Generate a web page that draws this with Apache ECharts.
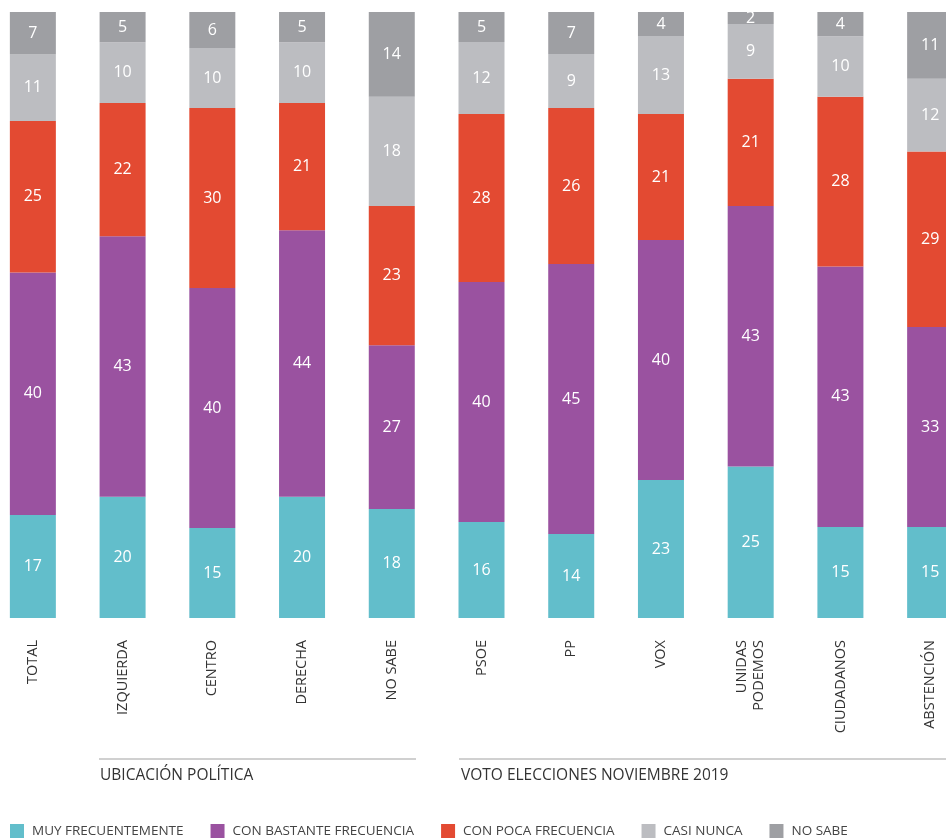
<!DOCTYPE html>
<html><head><meta charset="utf-8">
<script src="https://cdn.jsdelivr.net/npm/echarts@6/dist/echarts.min.js"></script>
<style>html,body{margin:0;padding:0;background:#fff}#c{width:946px;height:838px}</style>
</head><body><div id="c"></div>
<script>
const categories = ['TOTAL','IZQUIERDA','CENTRO','DERECHA','NO SABE','PSOE','PP','VOX','UNIDAS\nPODEMOS','CIUDADANOS','ABSTENCIÓN'];
const muyFrecuentemente = [17,20,15,20,18,16,14,23,25,15,15];
const conBastante      = [40,43,40,44,27,40,45,40,43,43,33];
const conPoca          = [25,22,30,21,23,28,26,21,21,28,29];
const casiNunca        = [11,10,10,10,18,12,9,13,9,10,12];
const noSabe           = [7,5,6,5,14,5,7,4,2,4,11];
const seriesNames = ['MUY FRECUENTEMENTE','CON BASTANTE FRECUENCIA','CON POCA FRECUENCIA','CASI NUNCA','NO SABE'];
const groupLabels = ['UBICACIÓN POLÍTICA','VOTO ELECCIONES NOVIEMBRE 2019'];

const colors = ['#62BECB','#9A52A0','#E34A32','#BCBDC1','#9E9FA3'];
const raw = [muyFrecuentemente, conBastante, conPoca, casiNunca, noSabe];
const totals = categories.map((_, i) => raw.reduce((s, a) => s + a[i], 0));
const FONT = '"Open Sans", sans-serif';

const chart = echarts.init(document.getElementById('c'));
chart.setOption({
  animation: false,
  color: colors,
  grid: { left: -12, width: 987, top: 12, height: 606, outerBoundsMode: 'none', containLabel: false },
  xAxis: {
    type: 'category', data: categories,
    axisLine: { show: false }, axisTick: { show: false },
    axisLabel: { rotate: 90, margin: 22, color: '#333', fontSize: 14.5, fontFamily: FONT, lineHeight: 17, interval: 0 }
  },
  yAxis: { type: 'value', min: 0, max: 100, show: false },
  legend: {
    left: 10, top: 824, icon: 'rect', itemWidth: 14, itemHeight: 14, itemGap: 27, padding: 0,
    textStyle: { color: '#444', fontSize: 13.5, fontFamily: FONT, padding: [0,0,0,3] },
    data: seriesNames
  },
  series: raw.map((arr, k) => ({
    name: seriesNames[k], type: 'bar', stack: 'a', barWidth: 46,
    data: arr.map((v, i) => ({ value: v / totals[i] * 100, raw: v })),
    label: {
      show: true, position: 'inside', color: '#fff', fontSize: 16, fontFamily: FONT,
      formatter: p => p.data.raw
    }
  })),
  graphic: [
    { type: 'line', shape: { x1: 99, y1: 759, x2: 416, y2: 759 }, style: { stroke: '#d0d0d0', lineWidth: 2 } },
    { type: 'line', shape: { x1: 459, y1: 759, x2: 946, y2: 759 }, style: { stroke: '#d0d0d0', lineWidth: 2 } },
    { type: 'text', left: 100, top: 768, style: { text: groupLabels[0], fill: '#333', font: '15.5px ' + FONT } },
    { type: 'text', left: 461, top: 768, style: { text: groupLabels[1], fill: '#333', font: '15.5px ' + FONT } }
  ]
});
</script></body></html>
